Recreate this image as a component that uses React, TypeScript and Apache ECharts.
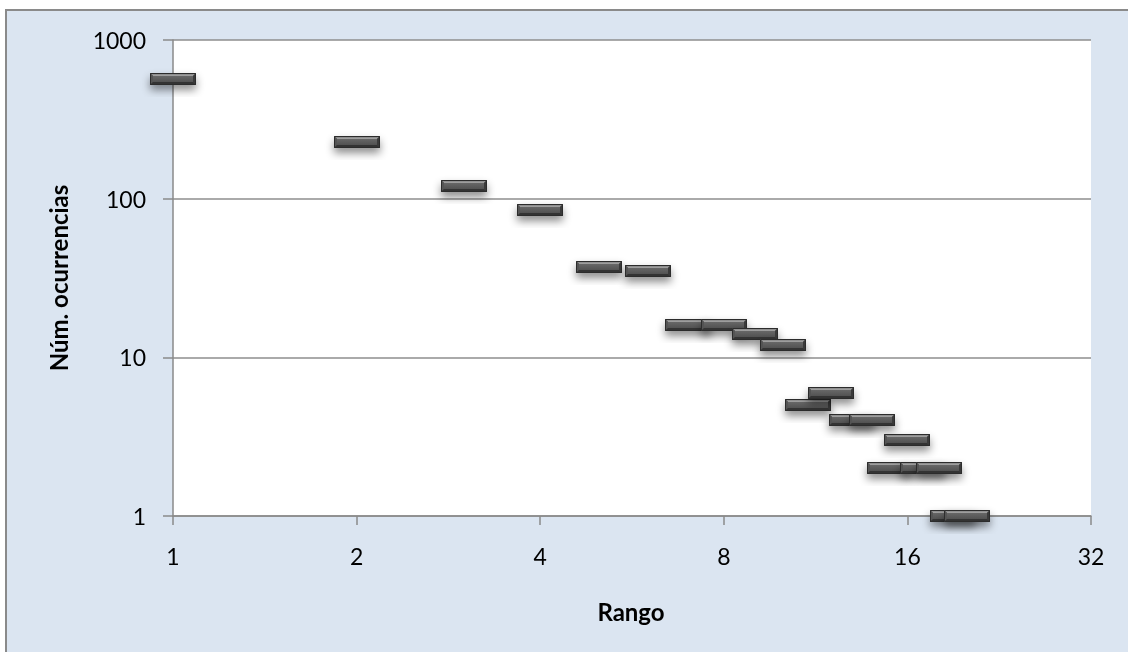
import React, { useEffect, useRef } from "react";
import * as echarts from "echarts";

// Rank (x) and number of occurrences (y)
const ranks = [1, 2, 3, 4, 5, 6, 7, 8, 9, 10, 11, 12, 13, 14, 15, 16, 17, 18, 19, 20];
const counts = [570, 227, 120, 85, 37, 35, 16, 16, 14, 12, 5, 6, 4, 4, 2, 3, 2, 2, 1, 1];

const xTicks = [1, 2, 4, 8, 16, 32];
const yTicks = [1, 10, 100, 1000];

const xTitle = "Rango";
const yTitle = "Núm. ocurrencias";

const FONT = "Lato, 'Noto Sans', sans-serif";

export default function App() {
  const ref = useRef<HTMLDivElement>(null);

  useEffect(() => {
    if (!ref.current) return;
    const chart = echarts.init(ref.current, null, { renderer: "svg" });

    const data = ranks.map((r, i) => [r, counts[i]]);

    // Bevelled dash marker centred on each point
    const renderItem = (params: any, api: any) => {
      const p = api.coord([api.value(0), api.value(1)]);
      const w = 46;
      const h = 12;
      const b = 3;
      const x0 = Math.round(p[0] - w / 2);
      const y0 = Math.round(p[1] - h / 2);
      const x1 = x0 + w;
      const y1 = y0 + h;
      return {
        type: "group",
        children: [
          {
            type: "rect",
            shape: { x: x0, y: y0, width: w, height: h },
            style: {
              fill: "#444444",
              shadowBlur: 8,
              shadowOffsetY: 5,
              shadowColor: "rgba(0,0,0,0.45)",
            },
          },
          {
            type: "polygon",
            shape: { points: [[x0, y0], [x1, y0], [x1 - b, y0 + b], [x0 + b, y0 + b]] },
            style: {
              fill: new echarts.graphic.LinearGradient(0, 0, 0, 1, [
                { offset: 0, color: "#777777" },
                { offset: 1, color: "#a5a5a5" },
              ]),
            },
          },
          {
            type: "polygon",
            shape: { points: [[x0, y0], [x0 + b, y0 + b], [x0 + b, y1 - b], [x0, y1]] },
            style: { fill: "#545454" },
          },
          {
            type: "polygon",
            shape: { points: [[x1, y0], [x1 - b, y0 + b], [x1 - b, y1 - b], [x1, y1]] },
            style: { fill: "#3a3a3a" },
          },
          {
            type: "polygon",
            shape: { points: [[x0, y1], [x0 + b, y1 - b], [x1 - b, y1 - b], [x1, y1]] },
            style: { fill: "#333333" },
          },
          {
            type: "rect",
            shape: { x: x0 + b, y: y0 + b, width: w - 2 * b, height: h - 2 * b },
            style: {
              fill: new echarts.graphic.LinearGradient(0, 0, 0, 1, [
                { offset: 0, color: "#676767" },
                { offset: 1, color: "#525252" },
              ]),
            },
          },
          {
            type: "rect",
            shape: { x: x0 + 0.5, y: y0 + 0.5, width: w - 1, height: h - 1 },
            style: { fill: "none", stroke: "#2c2c2c", lineWidth: 1 },
          },
        ],
      };
    };

    chart.setOption({
      animation: false,
      backgroundColor: "transparent",
      graphic: [
        {
          type: "rect",
          z: -10,
          silent: true,
          shape: { x: 6, y: 10, width: 1200, height: 700 },
          style: { fill: "#dbe5f1", stroke: "#8a8a8a", lineWidth: 2 },
        },
        {
          type: "text",
          x: 58,
          y: 278,
          rotation: Math.PI / 2,
          style: {
            text: yTitle,
            fill: "#000",
            font: `bold 24px ${FONT}`,
            textAlign: "center",
            textVerticalAlign: "middle",
          },
        },
        {
          type: "text",
          x: 631,
          y: 611,
          style: {
            text: xTitle,
            fill: "#000",
            font: `bold 24px ${FONT}`,
            textAlign: "center",
            textVerticalAlign: "middle",
          },
        },
      ],
      grid: {
        left: 173,
        top: 40,
        right: 37,
        bottom: 136,
        show: true,
        backgroundColor: "#ffffff",
        borderWidth: 0,
      },
      xAxis: {
        type: "log",
        logBase: 2,
        min: xTicks[0],
        max: xTicks[xTicks.length - 1],
        interval: 1,
        axisLine: { show: true, lineStyle: { color: "#8a8a8a", width: 1.5 } },
        axisTick: { show: true, inside: false, length: 9, lineStyle: { color: "#8a8a8a", width: 1.5 } },
        axisLabel: {
          fontFamily: FONT,
          fontSize: 23,
          color: "#000",
          margin: 28,
          formatter: (v: number) => String(Math.round(v)),
        },
        splitLine: { show: false },
        minorTick: { show: false },
      },
      yAxis: {
        type: "log",
        logBase: 10,
        min: yTicks[0],
        max: yTicks[yTicks.length - 1],
        interval: 1,
        axisLine: { show: true, lineStyle: { color: "#8a8a8a", width: 1.5 } },
        axisTick: { show: true, inside: false, length: 10, lineStyle: { color: "#8a8a8a", width: 1.5 } },
        axisLabel: {
          fontFamily: FONT,
          fontSize: 23,
          color: "#000",
          margin: 27,
          formatter: (v: number) => String(Math.round(v)),
        },
        splitLine: { show: true, lineStyle: { color: "#8e8e8e", width: 1.5 } },
      },
      series: [
        {
          type: "custom",
          renderItem,
          data,
          clip: false,
          z: 5,
        },
      ],
    });

    return () => chart.dispose();
  }, []);

  return (
    <div
      ref={ref}
      style={{ position: "fixed", left: 0, top: 0, width: 1128, height: 652 }}
    />
  );
}
